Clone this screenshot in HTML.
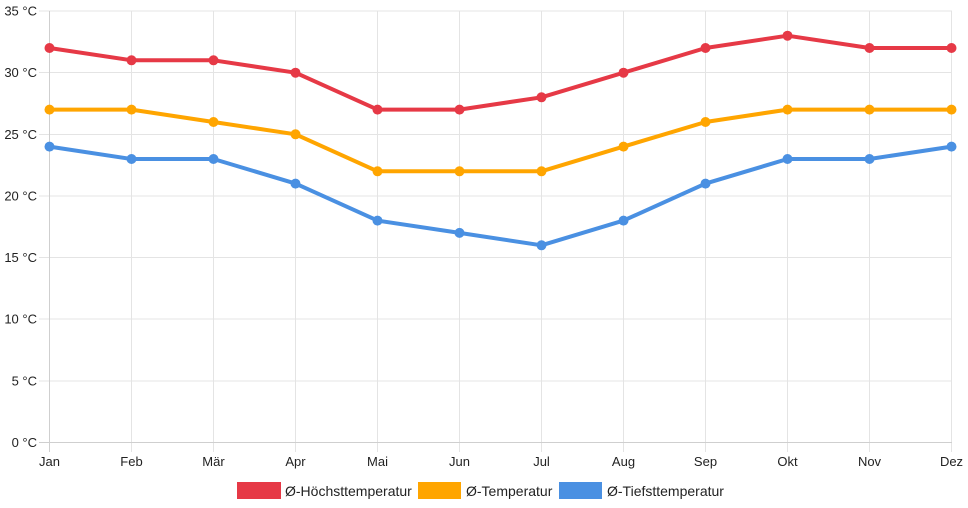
<!DOCTYPE html>
<html><head><meta charset="utf-8"><style>
html,body{margin:0;padding:0;background:#fff;}
svg{display:block;font-family:"Liberation Sans",Arial,sans-serif;}
</style></head><body>
<svg width="968" height="508" viewBox="0 0 968 508" xmlns="http://www.w3.org/2000/svg">
<g stroke="#e4e4e4" stroke-width="1" shape-rendering="crispEdges">
<line x1="39" y1="11" x2="952" y2="11"/>
<line x1="39" y1="72.7" x2="952" y2="72.7"/>
<line x1="39" y1="134.3" x2="952" y2="134.3"/>
<line x1="39" y1="195.9" x2="952" y2="195.9"/>
<line x1="39" y1="257.6" x2="952" y2="257.6"/>
<line x1="39" y1="319.2" x2="952" y2="319.2"/>
<line x1="39" y1="380.9" x2="952" y2="380.9"/>
<line x1="131.5" y1="11" x2="131.5" y2="452"/>
<line x1="213.5" y1="11" x2="213.5" y2="452"/>
<line x1="295.5" y1="11" x2="295.5" y2="452"/>
<line x1="377.5" y1="11" x2="377.5" y2="452"/>
<line x1="459.5" y1="11" x2="459.5" y2="452"/>
<line x1="541.5" y1="11" x2="541.5" y2="452"/>
<line x1="623.5" y1="11" x2="623.5" y2="452"/>
<line x1="705.5" y1="11" x2="705.5" y2="452"/>
<line x1="787.5" y1="11" x2="787.5" y2="452"/>
<line x1="869.5" y1="11" x2="869.5" y2="452"/>
<line x1="951.5" y1="11" x2="951.5" y2="452"/>
</g>
<g stroke="#cfcfcf" stroke-width="1" shape-rendering="crispEdges">
<line x1="39" y1="442.5" x2="952" y2="442.5"/>
<line x1="49.5" y1="11" x2="49.5" y2="452"/>
</g>
<g font-size="13" fill="#222" text-anchor="end">
<text x="37" y="15.5">35 °C</text>
<text x="37" y="77.2">30 °C</text>
<text x="37" y="138.8">25 °C</text>
<text x="37" y="200.4">20 °C</text>
<text x="37" y="262.1">15 °C</text>
<text x="37" y="323.7">10 °C</text>
<text x="37" y="385.4">5 °C</text>
<text x="37" y="447">0 °C</text>
</g>
<g font-size="13" fill="#222" text-anchor="middle">
<text x="49.5" y="466">Jan</text>
<text x="131.5" y="466">Feb</text>
<text x="213.5" y="466">Mär</text>
<text x="295.5" y="466">Apr</text>
<text x="377.5" y="466">Mai</text>
<text x="459.5" y="466">Jun</text>
<text x="541.5" y="466">Jul</text>
<text x="623.5" y="466">Aug</text>
<text x="705.5" y="466">Sep</text>
<text x="787.5" y="466">Okt</text>
<text x="869.5" y="466">Nov</text>
<text x="951.5" y="466">Dez</text>
</g>
<g fill="none" stroke-width="4" stroke-linejoin="round">
<polyline stroke="#e63946" points="49.5,48 131.5,60.3 213.5,60.3 295.5,72.7 377.5,109.6 459.5,109.6 541.5,97.3 623.5,72.7 705.5,48 787.5,35.7 869.5,48 951.5,48"/>
<polyline stroke="#ffa500" points="49.5,109.6 131.5,109.6 213.5,122 295.5,134.3 377.5,171.3 459.5,171.3 541.5,171.3 623.5,146.6 705.5,122 787.5,109.6 869.5,109.6 951.5,109.6"/>
<polyline stroke="#4a90e2" points="49.5,146.6 131.5,159 213.5,159 295.5,183.6 377.5,220.6 459.5,232.9 541.5,245.3 623.5,220.6 705.5,183.6 787.5,159 869.5,159 951.5,146.6"/>
</g>
<g fill="#e63946">
<circle cx="49.5" cy="48" r="5"/><circle cx="131.5" cy="60.3" r="5"/><circle cx="213.5" cy="60.3" r="5"/><circle cx="295.5" cy="72.7" r="5"/><circle cx="377.5" cy="109.6" r="5"/><circle cx="459.5" cy="109.6" r="5"/><circle cx="541.5" cy="97.3" r="5"/><circle cx="623.5" cy="72.7" r="5"/><circle cx="705.5" cy="48" r="5"/><circle cx="787.5" cy="35.7" r="5"/><circle cx="869.5" cy="48" r="5"/><circle cx="951.5" cy="48" r="5"/>
</g>
<g fill="#ffa500">
<circle cx="49.5" cy="109.6" r="5"/><circle cx="131.5" cy="109.6" r="5"/><circle cx="213.5" cy="122" r="5"/><circle cx="295.5" cy="134.3" r="5"/><circle cx="377.5" cy="171.3" r="5"/><circle cx="459.5" cy="171.3" r="5"/><circle cx="541.5" cy="171.3" r="5"/><circle cx="623.5" cy="146.6" r="5"/><circle cx="705.5" cy="122" r="5"/><circle cx="787.5" cy="109.6" r="5"/><circle cx="869.5" cy="109.6" r="5"/><circle cx="951.5" cy="109.6" r="5"/>
</g>
<g fill="#4a90e2">
<circle cx="49.5" cy="146.6" r="5"/><circle cx="131.5" cy="159" r="5"/><circle cx="213.5" cy="159" r="5"/><circle cx="295.5" cy="183.6" r="5"/><circle cx="377.5" cy="220.6" r="5"/><circle cx="459.5" cy="232.9" r="5"/><circle cx="541.5" cy="245.3" r="5"/><circle cx="623.5" cy="220.6" r="5"/><circle cx="705.5" cy="183.6" r="5"/><circle cx="787.5" cy="159" r="5"/><circle cx="869.5" cy="159" r="5"/><circle cx="951.5" cy="146.6" r="5"/>
</g>
<rect x="237" y="482" width="44" height="17" fill="#e63946"/>
<rect x="418" y="482" width="43" height="17" fill="#ffa500"/>
<rect x="559" y="482" width="43" height="17" fill="#4a90e2"/>
<g font-size="14" fill="#222">
<text x="285" y="496">Ø-Höchsttemperatur</text>
<text x="466" y="496">Ø-Temperatur</text>
<text x="607" y="496">Ø-Tiefsttemperatur</text>
</g>
</svg>
</body></html>
